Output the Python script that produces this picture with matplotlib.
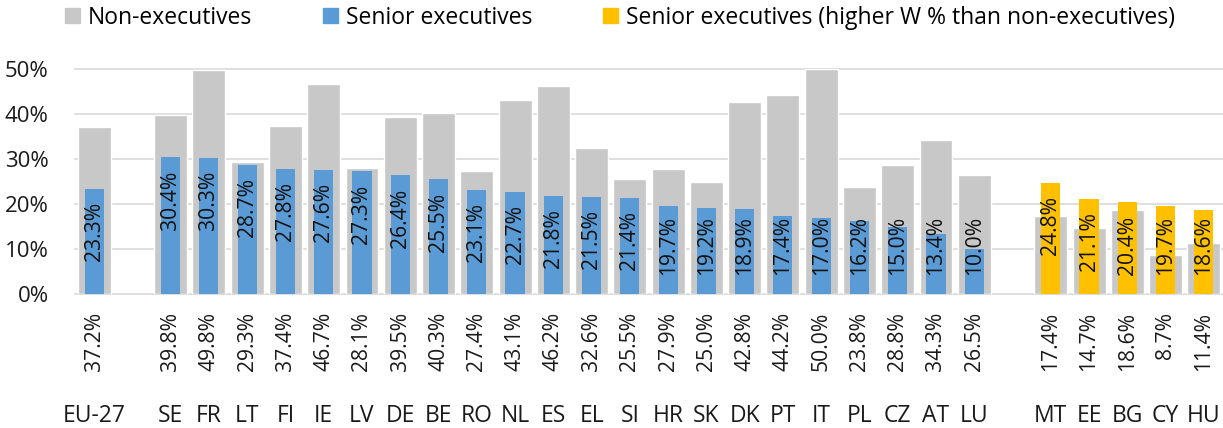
import matplotlib
matplotlib.use("Agg")
import matplotlib.pyplot as plt
from matplotlib.patches import Patch

plt.rcParams['font.family'] = ['Open Sans', 'DejaVu Sans']

countries = ["EU-27", "SE", "FR", "LT", "FI", "IE", "LV", "DE", "BE", "RO", "NL", "ES",
             "EL", "SI", "HR", "SK", "DK", "PT", "IT", "PL", "CZ", "AT", "LU",
             "MT", "EE", "BG", "CY", "HU"]
non_exec = [37.2, 39.8, 49.8, 29.3, 37.4, 46.7, 28.1, 39.5, 40.3, 27.4, 43.1, 46.2,
            32.6, 25.5, 27.9, 25.0, 42.8, 44.2, 50.0, 23.8, 28.8, 34.3, 26.5,
            17.4, 14.7, 18.6, 8.7, 11.4]
senior_exec = [23.3, 30.4, 30.3, 28.7, 27.8, 27.6, 27.3, 26.4, 25.5, 23.1, 22.7, 21.8,
               21.5, 21.4, 19.7, 19.2, 18.9, 17.4, 17.0, 16.2, 15.0, 13.4, 10.0,
               24.8, 21.1, 20.4, 19.7, 18.6]
higher_than_nonexec = [False] * 23 + [True] * 5
# slot positions: gap after EU-27 and before the "higher" group
positions = [0] + list(range(2, 24)) + list(range(25, 30))

GREY = "#C8C8C8"
BLUE = "#5B9BD5"
YELLOW = "#FFC000"
TXT = "#1a1a1a"

fig = plt.figure(figsize=(12.23, 4.28), dpi=100)
ax = fig.add_axes([0.0613, 0.313, 0.9387, 0.525])

ax.bar(positions, non_exec, width=0.86, color=GREY, edgecolor="white", linewidth=1.0, zorder=2)
ax.bar(positions, senior_exec, width=0.5,
       color=[YELLOW if h else BLUE for h in higher_than_nonexec], zorder=3)

ax.set_xlim(-0.5, 29.5)
ax.set_ylim(0, 50)
ax.set_yticks([0, 10, 20, 30, 40, 50])
ax.set_yticklabels([f"{t}%" for t in [0, 10, 20, 30, 40, 50]], fontsize=16, color=TXT)
ax.tick_params(axis="y", length=0, pad=19)
ax.set_xticks([])
for s in ax.spines.values():
    s.set_visible(False)
for t in [0, 10, 20, 30, 40, 50]:
    ax.axhline(t, color="#D9D9D9", linewidth=1.2, zorder=1, clip_on=False)

for x, v in zip(positions, senior_exec):
    ytop = max(v - 2.9, 17.3)
    ax.text(x, ytop, f"{v:.1f}%", rotation=90, ha="center", va="top",
            fontsize=15.2, color="#111111", zorder=4)

for x, v, c in zip(positions, non_exec, countries):
    ax.annotate(f"{v:.1f}%", xy=(x, 0), xycoords="data", xytext=(0, -13),
                textcoords="offset points", rotation=90, ha="center", va="top",
                fontsize=15.2, color=TXT, annotation_clip=False)
    ax.annotate(c, xy=(x, 0), xycoords="data", xytext=(0, -88),
                textcoords="offset points", ha="center", va="center",
                fontsize=16.5, color=TXT, annotation_clip=False)

handles = [Patch(color=GREY), Patch(color=BLUE), Patch(color=YELLOW)]
labels = ["Non-executives", "Senior executives", "Senior executives (higher W % than non-executives)"]
fig.legend(handles, labels, loc="upper center", bbox_to_anchor=(0.507, 1.035), ncol=3,
           frameon=False, fontsize=16.5, handlelength=0.65, handleheight=0.65,
           handletextpad=0.35, columnspacing=3.1)

fig.savefig("out.png", dpi=100)
